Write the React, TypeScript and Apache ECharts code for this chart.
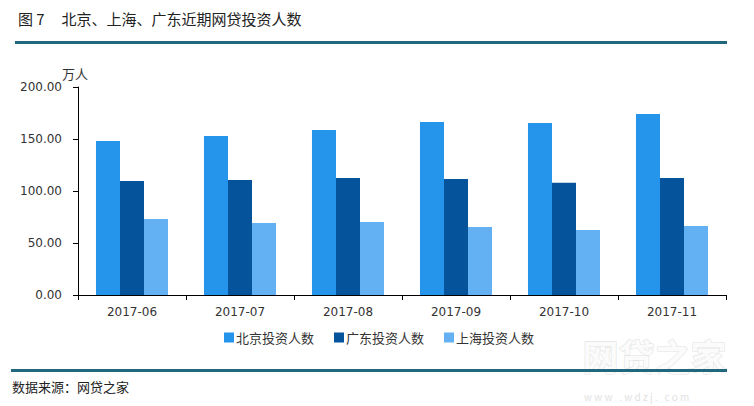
import React, { useEffect, useRef } from "react";
import * as echarts from "echarts";

const categories = ["2017-06", "2017-07", "2017-08", "2017-09", "2017-10", "2017-11"];
const beijing = [148.1, 152.9, 158.7, 166.3, 165.4, 174.0];
const guangdong = [109.6, 110.6, 112.5, 111.5, 108.0, 112.5];
const shanghai = [73.1, 69.2, 70.2, 65.4, 62.5, 66.3];
const seriesNames = ["北京投资人数", "广东投资人数", "上海投资人数"];
const colors = ["#2595EC", "#05539B", "#63B1F2"];

const FONT = "'Noto Sans CJK SC', 'Noto Sans', sans-serif";
const NUMFONT = "'DejaVu Sans', 'Noto Sans CJK SC', sans-serif";

export default function App() {
  const ref = useRef<HTMLDivElement>(null);
  useEffect(() => {
    document.body.style.margin = "0";
    const chart = echarts.init(ref.current!, null, { renderer: "svg" });
    chart.setOption({
      animation: false,
      backgroundColor: "#ffffff",
      textStyle: { fontFamily: FONT },
      grid: { left: 78, right: 28, top: 87, bottom: 111, containLabel: false },
      legend: {
        data: seriesNames,
        top: 326,
        left: 219,
        itemWidth: 10,
        itemHeight: 10,
        itemGap: 20,
        icon: "rect",
        textStyle: { fontSize: 13, color: "#333", fontFamily: FONT, padding: [0, 0, 0, -3] },
      },
      xAxis: {
        type: "category",
        data: categories,
        axisLine: { lineStyle: { color: "#000", width: 1 } },
        axisTick: { show: true, alignWithLabel: false, length: 5, lineStyle: { color: "#000" } },
        axisLabel: { fontSize: 12, color: "#333", margin: 11, fontFamily: NUMFONT },
      },
      yAxis: {
        type: "value",
        min: 0,
        max: 200,
        interval: 50,
        name: "万人",
        nameLocation: "end",
        nameGap: 7,
        nameTextStyle: { fontSize: 13, color: "#333", align: "right", padding: [0, -10, 0, 0], fontFamily: FONT },
        axisLine: { show: true, lineStyle: { color: "#000", width: 1 } },
        axisTick: { show: true, length: 5, lineStyle: { color: "#000" } },
        splitLine: { show: false },
        axisLabel: {
          fontSize: 12,
          color: "#333",
          margin: 16,
          fontFamily: NUMFONT,
          formatter: (v: number) => v.toFixed(2),
        },
      },
      series: [
        { name: seriesNames[0], type: "bar", data: beijing, itemStyle: { color: colors[0] }, barGap: "0%", barCategoryGap: "33.3%" },
        { name: seriesNames[1], type: "bar", data: guangdong, itemStyle: { color: colors[1] }, barGap: "0%", barCategoryGap: "33.3%" },
        { name: seriesNames[2], type: "bar", data: shanghai, itemStyle: { color: colors[2] }, barGap: "0%", barCategoryGap: "33.3%" },
      ],
      graphic: [
        {
          type: "text",
          left: 18,
          top: 11,
          style: { text: "图 7     北京、上海、广东近期网贷投资人数", fontSize: 15, fill: "#222", fontFamily: FONT },
        },
        { type: "rect", shape: { x: 15, y: 41, width: 712, height: 3 }, style: { fill: "#21687E" } },
        {
          type: "text",
          left: 582,
          top: 336,
          z: 1,
          style: { text: "网贷之家", fontSize: 36, fontWeight: "bold", fill: "#fbfbfb", stroke: "#e4e4e4", lineWidth: 1.2, fontFamily: FONT },
        },
        {
          type: "text",
          left: 584,
          top: 391,
          z: 1,
          style: { text: "w w w   . w d z j .   c o m", fontSize: 10, fill: "#e2e2e2", fontFamily: FONT },
        },
        { type: "rect", z: 2, shape: { x: 11, y: 369, width: 716, height: 3 }, style: { fill: "#21687E" } },
        {
          type: "text",
          left: 12,
          top: 380,
          style: { text: "数据来源：网贷之家", fontSize: 13, fill: "#222", fontFamily: FONT },
        },
      ],
    });
    return () => chart.dispose();
  }, []);
  return <div ref={ref} style={{ width: 754, height: 406 }} />;
}
